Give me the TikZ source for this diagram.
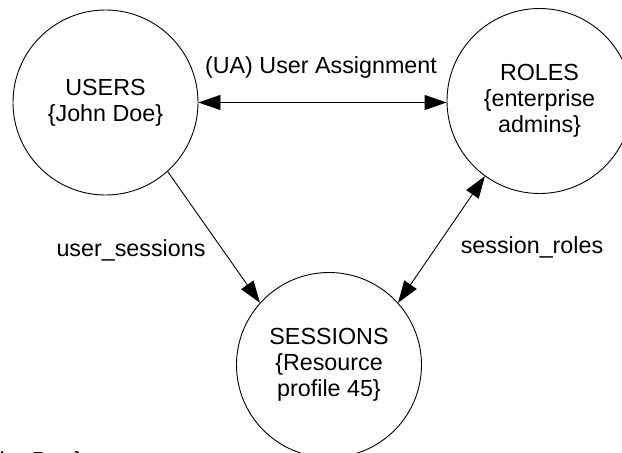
\documentclass[tikz,border=0pt]{standalone}
\usepackage{fontspec}
\setmainfont{Liberation Sans}
\usetikzlibrary{arrows.meta}
\begin{document}
\begin{tikzpicture}[x=1pt,y=-1pt,
  txt/.style={font=\fontsize{23.3}{26}\selectfont, text=black},
  entity/.style={circle, draw=black, line width=0.9pt, minimum size=185pt, inner sep=0pt, align=center, txt},
  lbl/.style={txt, inner sep=0pt, anchor=base},
  conn/.style={draw=black, line width=0.9pt},
  tip/.tip={Triangle[length=22pt,width=15pt]}
]
\clip (0,0) rectangle (622,453);
\fill[white] (0,0) rectangle (622,453);
\node[entity] (users) at (105.5,102.5) {USERS\\\{John Doe\}};
\node[entity] (roles) at (539.5,101) {ROLES\\\{enterprise\\admins\}};
\node[entity] (sessions) at (329,365) {SESSIONS\\\{Resource\\profile 45\}};
\coordinate (uaend) at (users.east -| roles.west);
\draw[conn, tip-tip] (users.east) -- (uaend);
\draw[conn, -tip] (users.-48.9) -- (sessions.138.5);
\draw[conn, tip-tip] (roles.-126) -- (sessions.42.8);
\node[lbl] (ualbl) at (321,73.5) {(UA) User Assignment};
\node[lbl] (uslbl) at (131,256.5) {user\_sessions};
\node[lbl] (srlbl) at (532,253.3) {session\_roles};
\node[txt, inner sep=0pt, anchor=base west] (frag) at (-33,468) {\{John Doe\}};
\end{tikzpicture}
\end{document}
